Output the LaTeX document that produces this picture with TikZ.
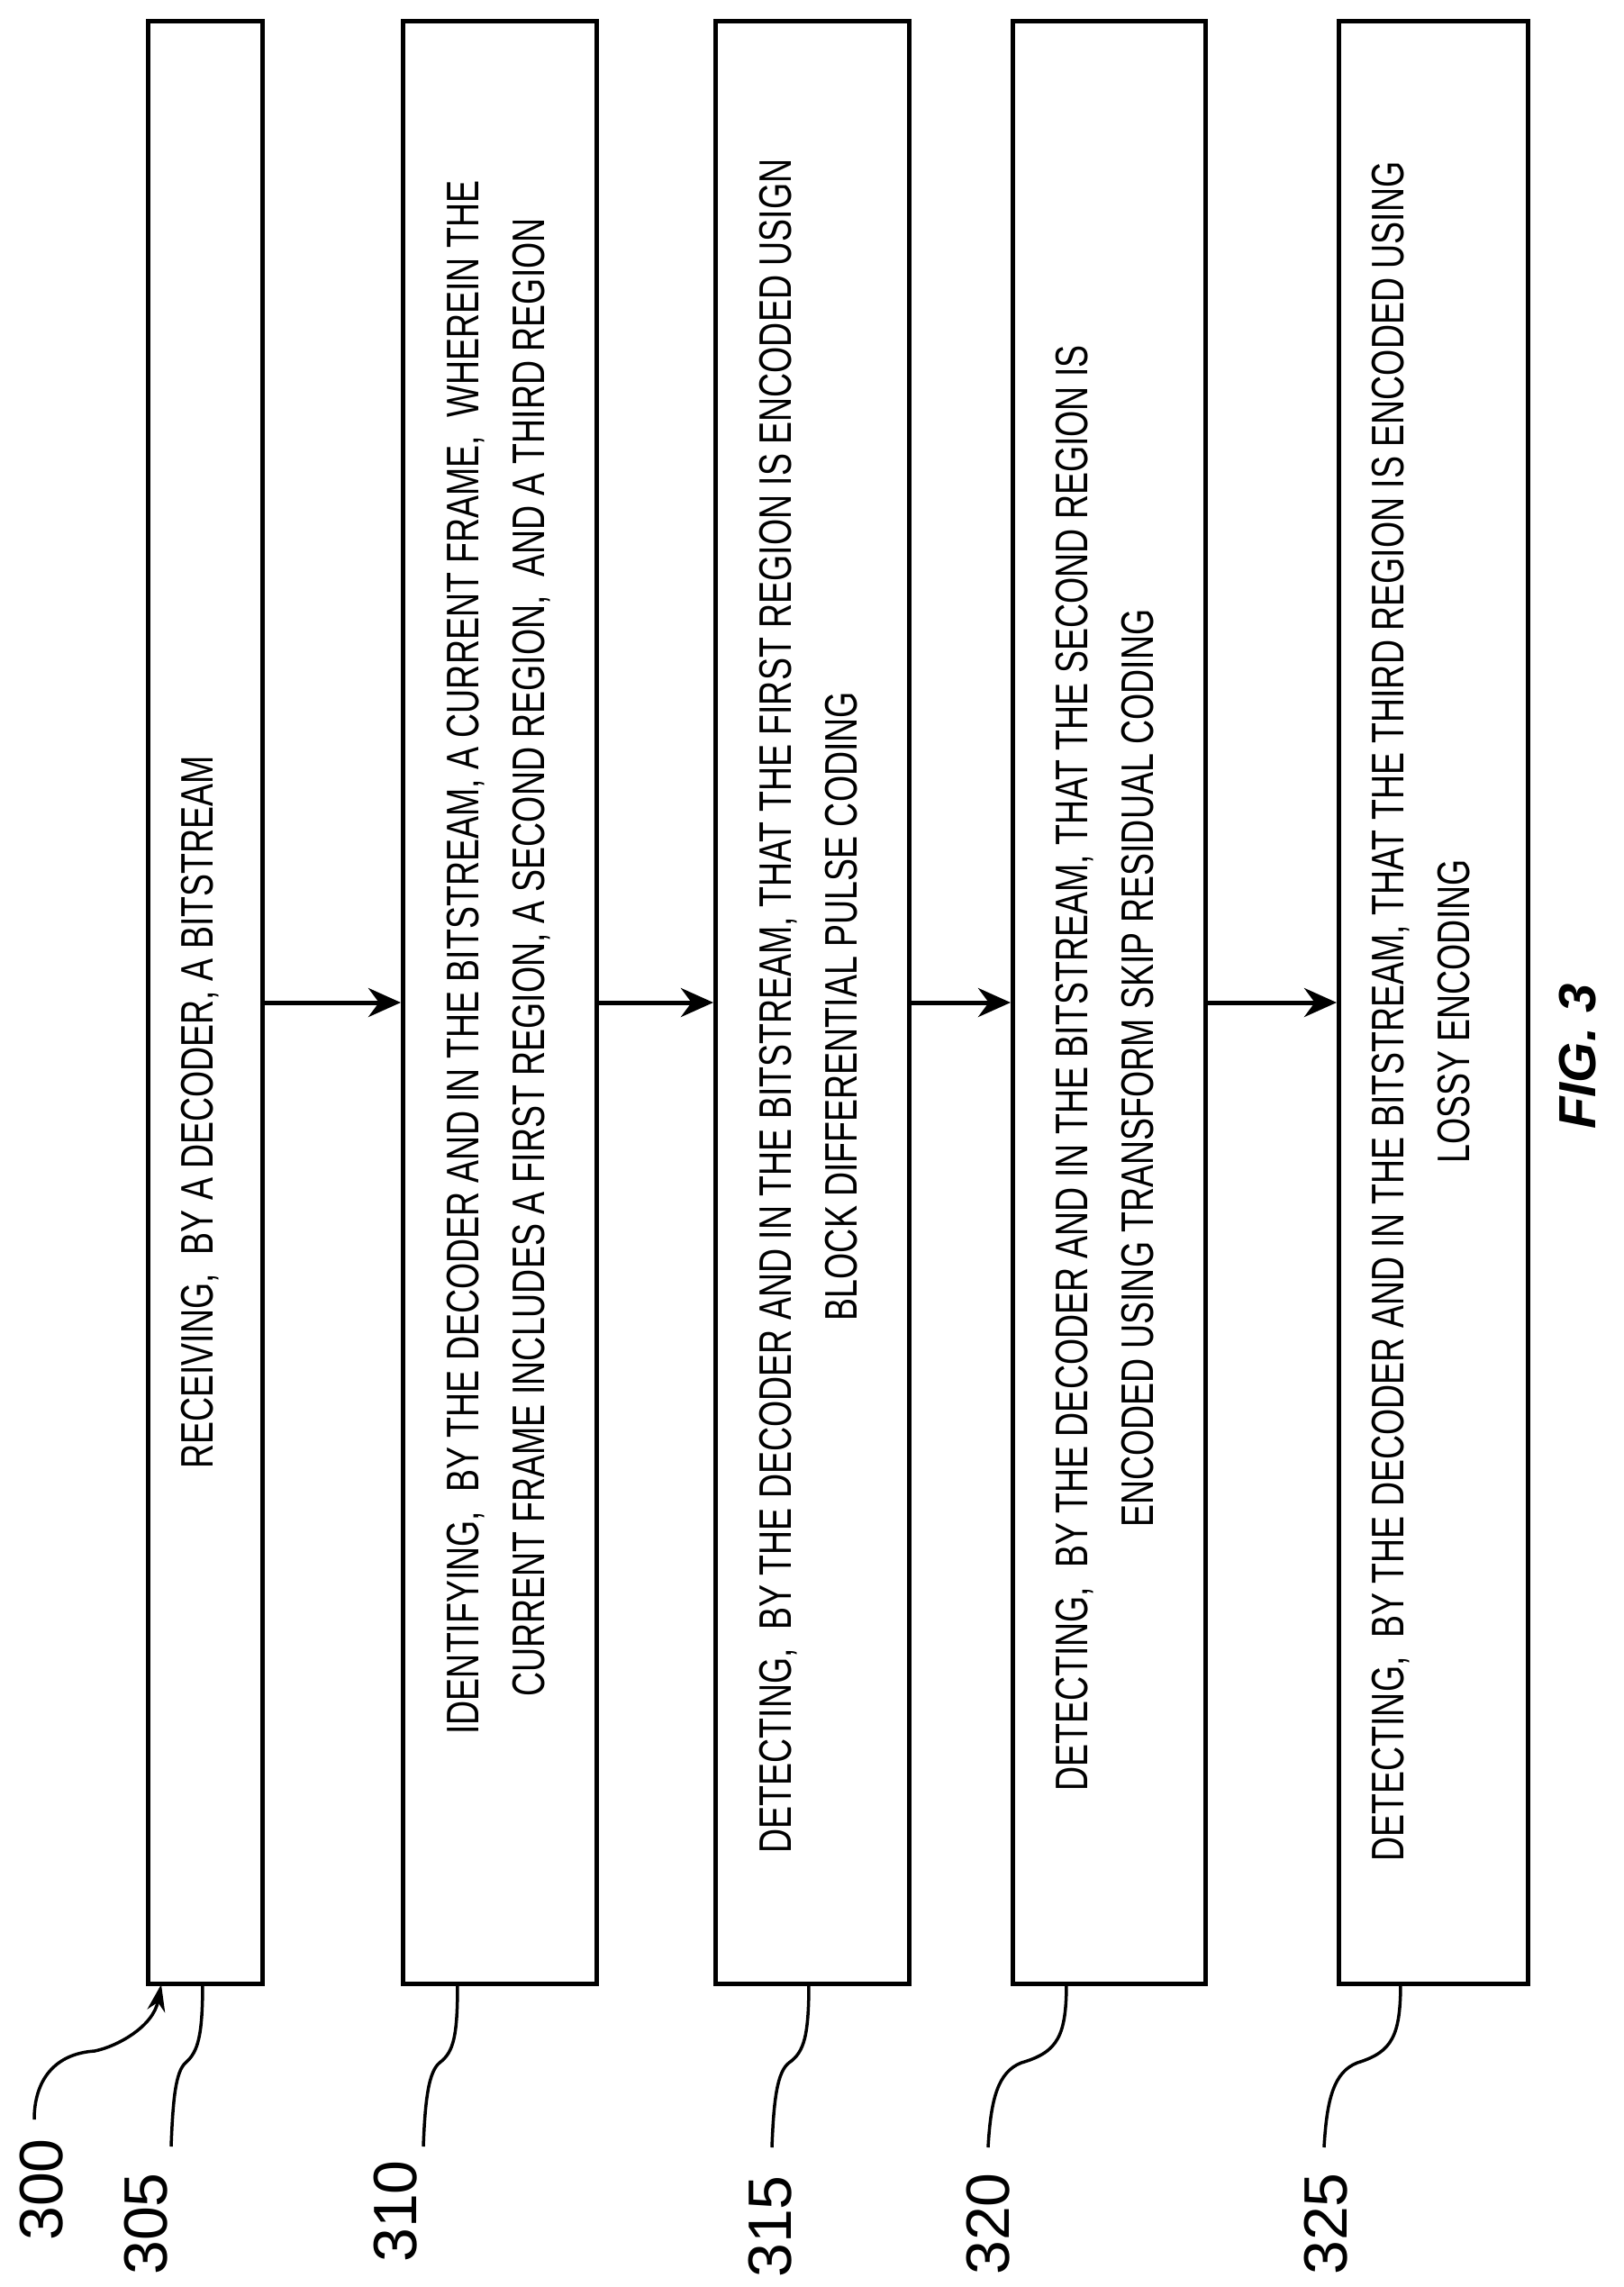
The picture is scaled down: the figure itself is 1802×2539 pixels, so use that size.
\documentclass[tikz,border=0pt]{standalone}
\usepackage{fontspec}
\setmainfont{Liberation Sans}
\usetikzlibrary{arrows.meta,calc}
\newcommand\condtxt[1]{\scalebox{1}[1.35]{\begin{tabular}{@{}c@{}}#1\end{tabular}}}
\tikzset{
  boxst/.style={draw,line width=5pt,minimum width=#1,inner sep=0pt,anchor=north west},
  txtst/.style={rotate=90,inner sep=0pt,font=\fontsize{37.5}{54}\selectfont},
  numst/.style={rotate=90,inner sep=0pt,font=\fontsize{68}{72}\selectfont},
  conn/.style={line width=5pt,-{Stealth[length=36pt,width=32pt]}},
  lead/.style={line width=3.5pt}
}
\begin{document}
\begin{tikzpicture}[x=1pt,y=-1pt]
\fill[white] (0,0) rectangle (1802,2539);
\useasboundingbox (0,0) rectangle (1802,2539);
% boxes
\node[boxst=127pt,minimum height=2179pt] (b1) at (162,21) {};
\node[boxst=215pt,minimum height=2179pt] (b2) at (445,21) {};
\node[boxst=215pt,minimum height=2179pt] (b3) at (792,21) {};
\node[boxst=214pt,minimum height=2179pt] (b4) at (1122,21) {};
\node[boxst=210pt,minimum height=2179pt] (b5) at (1484,21) {};
% texts
\node[txtst] (t1) at (222,1235) {\condtxt{RECEIVING,\ \ BY A DECODER, A BITSTREAM}};
\node[txtst] (t2) at (553,1063) {\condtxt{IDENTIFYING,\ \ BY THE DECODER AND IN THE BITSTREAM, A CURRENT FRAME,\ \ WHEREIN THE\\CURRENT FRAME INCLUDES A FIRST REGION, A SECOND REGION,\ \ AND A THIRD REGION}};
\node[txtst] (t3) at (900,1117) {\condtxt{DETECTING,\ \ BY THE DECODER AND IN THE BITSTREAM, THAT THE FIRST REGION IS ENCODED USIGN\\BLOCK DIFFERENTIAL PULSE CODING}};
\node[txtst] (t4) at (1229,1186) {\condtxt{DETECTING,\ \ BY THE DECODER AND IN THE BITSTREAM, THAT THE SECOND REGION IS\\ENCODED USING TRANSFORM SKIP RESIDUAL CODING}};
\node[txtst] (t5) at (1580,1123) {\condtxt{DETECTING,\ \ BY THE DECODER AND IN THE BITSTREAM, THAT THE THIRD REGION IS ENCODED USING\\LOSSY ENCODING}};
% arrows
\draw[conn] (b1.east) -- (b2.west);
\draw[conn] (b2.east) -- (b3.west);
\draw[conn] (b3.east) -- (b4.west);
\draw[conn] (b4.east) -- (b5.west);
% labels
\node[numst] (n300) at (46,2431) {300};
\node[numst] (n305) at (162,2469) {305};
\node[numst] (n310) at (439,2455) {310};
\node[numst] (n315) at (855,2472) {315};
\node[numst] (n320) at (1097,2469) {320};
\node[numst] (n325) at (1472,2469) {325};
\node[rotate=90,inner sep=0pt,font=\fontsize{58}{62}\selectfont\bfseries\itshape] (fig) at (1752,1173) {FIG. 3};
% leaders
\coordinate (e300) at (179,2203);
\draw[line width=3.5pt,-{Stealth[length=30pt,width=20pt]}] (38,2353) .. controls (38,2310) and (60,2280) .. (105,2277) .. controls (130,2272) and (170,2250) .. (e300);
\coordinate (e305) at (225,2200);
\draw[lead] (190,2383) .. controls (192,2330) and (195,2300) .. (206,2290) .. controls (220,2278) and (225,2260) .. (e305);
\coordinate (e310) at (508,2200);
\draw[lead] (470,2383) .. controls (472,2330) and (476,2300) .. (488,2290) .. controls (504,2278) and (508,2260) .. (e310);
\coordinate (e315) at (898,2200);
\draw[lead] (857,2384) .. controls (859,2330) and (863,2300) .. (876,2290) .. controls (893,2278) and (898,2260) .. (e315);
\coordinate (e320) at (1184,2200);
\draw[lead] (1097,2384) .. controls (1100,2330) and (1108,2300) .. (1134,2290) .. controls (1175,2278) and (1184,2260) .. (e320);
\coordinate (e325) at (1555,2200);
\draw[lead] (1470,2384) .. controls (1473,2330) and (1481,2300) .. (1507,2290) .. controls (1546,2278) and (1555,2260) .. (e325);
\end{tikzpicture}
\end{document}
